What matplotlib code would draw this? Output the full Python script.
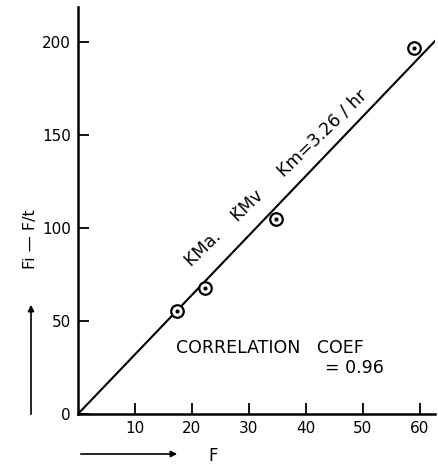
import matplotlib
matplotlib.use("Agg")
import matplotlib.pyplot as plt
import numpy as np

# data
f_vals = [17.4, 22.3, 34.7, 59.0]
y_vals = [55.4, 67.7, 105.0, 197.0]
slope = 3.2
x_ticks = [10, 20, 30, 40, 50, 60]
y_ticks = [0, 50, 100, 150, 200]

fig = plt.figure(figsize=(4.38, 4.68), dpi=100)
ax = fig.add_axes([0.178, 0.1154, 0.815, 0.8697])

xl = np.array([0, 63.5])
ax.plot(xl, slope * xl, color="black", linewidth=1.5, clip_on=True)
ax.plot(f_vals, y_vals, linestyle="none", marker="o", markersize=9,
        markerfacecolor="white", markeredgecolor="black", markeredgewidth=1.6)
ax.plot(f_vals, y_vals, linestyle="none", marker="o", markersize=2,
        color="black")

ax.set_xlim(0, 62.7)
ax.set_ylim(0, 219)
ax.set_xticks(x_ticks)
ax.set_yticks(y_ticks)
ax.tick_params(direction="in", length=8, width=1.3, labelsize=11, pad=5)
ax.set_xticklabels([str(t) for t in x_ticks])
ax.set_yticklabels([str(t) for t in y_ticks])
for s in ["top", "right"]:
    ax.spines[s].set_visible(False)
for s in ["left", "bottom"]:
    ax.spines[s].set_linewidth(1.8)

ax.text(19.8, 79, "KMa.    K\u0307Mv     Km=3.26 / hr", rotation=44,
        rotation_mode="anchor", ha="left", va="baseline", fontsize=12.5)
ax.text(17.3, 35.5, "CORRELATION   COEF", fontsize=12.5, ha="left",
        va="center")
ax.text(53.8, 24.5, "= 0.96", fontsize=12.5, ha="right", va="center")

# axis labels with arrows, as in the original
fig.text(208 / 438, 1 - 456 / 468, "F", fontsize=12, ha="left", va="center")
fig.add_artist(matplotlib.patches.FancyArrowPatch(
    (78 / 438, 1 - 454 / 468), (180 / 438, 1 - 454 / 468),
    transform=fig.transFigure, arrowstyle="-|>", mutation_scale=9,
    color="black", linewidth=1.2))
fig.text(30 / 438, 1 - 239 / 468, "Fi \u2014 F/t", fontsize=11.5,
         rotation=90, ha="center", va="center")
fig.add_artist(matplotlib.patches.FancyArrowPatch(
    (31 / 438, 1 - 417 / 468), (31 / 438, 1 - 302 / 468),
    transform=fig.transFigure, arrowstyle="-|>", mutation_scale=9,
    color="black", linewidth=1.2))

fig.savefig("out.png", dpi=100, facecolor="white")
